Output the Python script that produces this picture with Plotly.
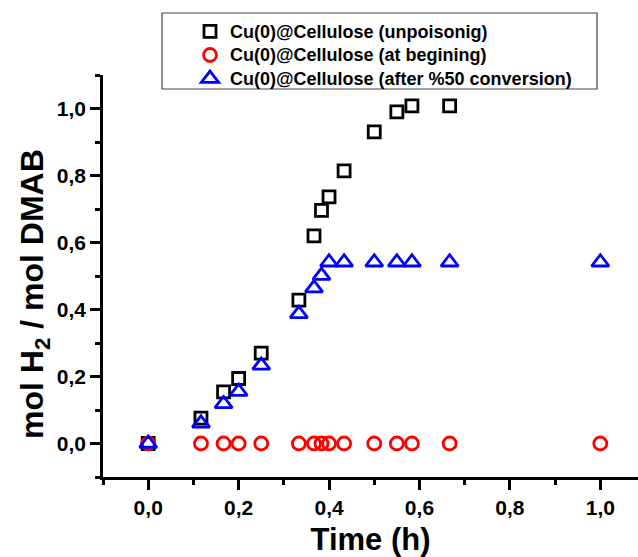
import plotly.graph_objects as go

# Time (h)
t_unpoison = [0, 0.1167, 0.1667, 0.2, 0.25, 0.3333, 0.3667, 0.3833, 0.4, 0.4333, 0.5, 0.55, 0.5833, 0.6667]
y_unpoison = [0.0, 0.076, 0.154, 0.194, 0.270, 0.428, 0.620, 0.696, 0.736, 0.814, 0.930, 0.990, 1.008, 1.008]

t_begin = [0, 0.1167, 0.1667, 0.2, 0.25, 0.3333, 0.3667, 0.3833, 0.4, 0.4333, 0.5, 0.55, 0.5833, 0.6667, 1.0]
y_begin = [0.0] * 15

t_after = [0, 0.1167, 0.1667, 0.2, 0.25, 0.3333, 0.3667, 0.3833, 0.4, 0.4333, 0.5, 0.55, 0.5833, 0.6667, 1.0]
y_after = [0.0, 0.060, 0.118, 0.155, 0.233, 0.387, 0.464, 0.501, 0.541, 0.541, 0.541, 0.541, 0.541, 0.541, 0.541]

names = ["Cu(0)@Cellulose (unpoisonig)",
         "Cu(0)@Cellulose (at begining)",
         "Cu(0)@Cellulose (after %50 conversion)"]

x_title = "Time (h)"
y_title = "mol H<sub>2</sub> / mol DMAB"

FONT = "Liberation Sans, Arial, sans-serif"


def leg(n):
    return '<span style="font-size:18px"><b>' + n + "</b></span>"


fig = go.Figure()
fig.add_trace(go.Scatter(x=t_unpoison, y=y_unpoison, mode="markers", name=leg(names[0]),
                         marker=dict(symbol="square-open", size=12, color="black",
                                     line=dict(width=2.8, color="black"))))
fig.add_trace(go.Scatter(x=t_begin, y=y_begin, mode="markers", name=leg(names[1]),
                         marker=dict(symbol="circle-open", size=13, color="#FF0000",
                                     line=dict(width=2.8, color="#FF0000"))))
fig.add_trace(go.Scatter(x=t_after, y=y_after, mode="markers", name=leg(names[2]),
                         marker=dict(symbol="triangle-up-open", size=15, color="#0000FF",
                                     line=dict(width=2.8, color="#0000FF"))))

tickfont = dict(family=FONT, size=21, color="black")
axis_common = dict(
    showline=True, linewidth=2.5, linecolor="black",
    ticks="outside", ticklen=10, tickwidth=2.5, tickcolor="black",
    showgrid=False, zeroline=False, mirror=False,
    tickfont=tickfont, tickprefix="<b>", ticksuffix="</b>",
    tickformat=".1f",
    automargin=False,
)

fig.update_layout(
    width=638, height=557,
    margin=dict(l=103, r=0, t=75, b=80),
    paper_bgcolor="white", plot_bgcolor="white",
    separators=",.",
    font=dict(family=FONT, color="black"),
    showlegend=True,
    legend=dict(x=(190 - 103) / 535, y=1.15, xanchor="left", yanchor="top",
                bgcolor="rgba(0,0,0,0)", borderwidth=0,
                font=dict(family=FONT, size=15.8, color="black"),
                tracegroupgap=0),
    xaxis=dict(range=[-0.1, 1.0834], tick0=0, dtick=0.2,
               minor=dict(dtick=0.1, ticks="outside", ticklen=5, tickwidth=2.5, tickcolor="black"),
               title=dict(text="<b>" + x_title + "</b>", font=dict(family=FONT, size=31, color="black"),
                          standoff=12),
               **axis_common),
    yaxis=dict(range=[-0.1, 1.1], tick0=0, dtick=0.2,
               minor=dict(dtick=0.1, ticks="outside", ticklen=5, tickwidth=2.5, tickcolor="black"),
               **axis_common),
)

fig.add_annotation(text="<b>" + y_title + "</b>", textangle=-90,
                   xref="paper", yref="paper", x=(34 - 103) / 535, y=(477 - 294) / 402,
                   xanchor="center", yanchor="middle", showarrow=False,
                   font=dict(family=FONT, size=32, color="black"))

fig.add_shape(type="rect", xref="paper", yref="paper",
              x0=(162 - 103) / 535, x1=(597 - 103) / 535,
              y0=(477 - 89) / 402, y1=(477 - 13) / 402,
              line=dict(color="#444444", width=1.2), fillcolor="rgba(0,0,0,0)")

fig.write_html("out.html")
